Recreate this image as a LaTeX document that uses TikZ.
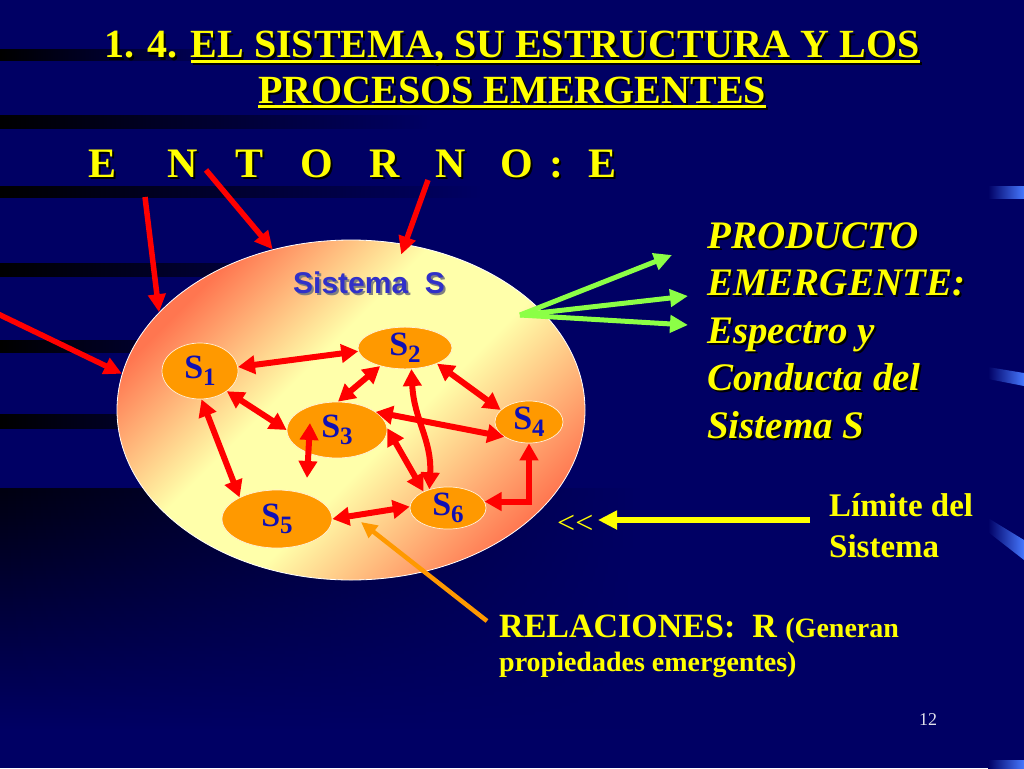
\documentclass[tikz,border=0pt]{standalone}
\usepackage{fontspec}
\setmainfont{Liberation Serif}
\newfontfamily\syssans{Liberation Sans}
\usetikzlibrary{shapes.geometric,arrows.meta,fadings}

\definecolor{slidebg}{RGB}{0,0,100}
\definecolor{slidedark}{RGB}{0,0,16}
\definecolor{titleyel}{RGB}{255,255,0}
\definecolor{sysyel}{RGB}{255,255,170}
\definecolor{syssalmon}{RGB}{255,118,80}
\definecolor{suborange}{RGB}{255,153,0}
\definecolor{subblue}{RGB}{16,16,180}
\definecolor{sysblue}{RGB}{48,48,200}
\definecolor{relred}{RGB}{255,0,0}
\definecolor{prodgreen}{RGB}{140,255,70}
\definecolor{dashblue}{RGB}{70,120,255}
\definecolor{pagegray}{RGB}{225,225,235}

\pgfdeclarehorizontalshading{sysglow}{100bp}{color(0bp)=(syssalmon); color(34bp)=(syssalmon); color(45bp)=(sysyel); color(54bp)=(sysyel); color(67bp)=(syssalmon); color(100bp)=(syssalmon)}

\newcommand\shad[2][black]{\leavevmode\rlap{\kern2pt\raisebox{-2pt}{\color{#1}#2}}#2}
\newcommand\titleline[1]{\setbox0\hbox{#1}\rlap{\rule[-5pt]{\wd0}{3pt}}\box0}
\newcommand\subidx[1]{\raisebox{-7pt}{\fontsize{25}{25}\selectfont#1}}

\begin{document}
\begin{tikzpicture}[x=1pt,y=-1pt,>={Triangle[length=17pt,width=18pt]},
    titletext/.style={text=titleyel,inner sep=0pt,anchor=base,font=\fontsize{40}{45}\selectfont\bfseries},
    entorno/.style={text=titleyel,inner sep=0pt,anchor=base west,font=\fontsize{42}{42}\selectfont\bfseries},
    sysbody/.style={ellipse,draw=white,line width=0.8pt,minimum width=468pt,minimum height=340pt,
      path picture={\shade[shading=sysglow,transform canvas={rotate around={-45:(path picture bounding box.center)}}]
        ([shift={(-300pt,-300pt)}]path picture bounding box.center) rectangle ([shift={(300pt,300pt)}]path picture bounding box.center);}},
    systitle/.style={text=sysblue,inner sep=0pt,anchor=base west,font=\fontsize{30}{30}\selectfont\syssans\bfseries},
    subsys/.style={ellipse,fill=suborange,draw=white!85!suborange,line width=0.7pt,text=subblue,inner sep=0pt,font=\fontsize{34}{34}\selectfont\bfseries},
    relarrow/.style={<->,draw=relred,line width=6pt},
    envarrow/.style={->,draw=relred,line width=5.5pt,>={Triangle[length=18pt,width=17pt]}},
    emarrow/.style={->,draw=prodgreen,line width=5pt,>={Triangle[length=18pt,width=17pt]}},
    limarrow/.style={->,draw=titleyel,line width=6pt,>={Triangle[length=19pt,width=18pt]}},
    rarrow/.style={->,draw=suborange,line width=4.5pt,>={Triangle[length=16pt,width=15pt]}},
    prodtext/.style={text=titleyel,inner sep=0pt,anchor=north west,align=left,font=\fontsize{39}{47.5}\selectfont\bfseries\itshape},
    limtext/.style={text=titleyel,inner sep=0pt,anchor=north west,align=left,font=\fontsize{33}{41}\selectfont\bfseries},
    reltext/.style={text=titleyel,inner sep=0pt,anchor=north west,align=left,font=\fontsize{34}{34}\selectfont\bfseries},
    chevron/.style={text=titleyel,inner sep=0pt,anchor=base west,font=\fontsize{32}{32}\selectfont},
    pagenum/.style={text=pagegray,inner sep=0pt,anchor=base west,font=\fontsize{18}{18}\selectfont}]
\useasboundingbox (0,0) rectangle (1024,768);
% background
\fill[slidebg] (0,0) rectangle (1024,768);
\shade[top color=slidedark,bottom color=slidebg,path fading=east] (0,488) rectangle (640,730);
\foreach \ya/\yb/\len in {49/61/240,115/129/430,186/198/480,263/277/420,340/353/320,414/429/320}
  \fill[black,path fading=east] (0,\ya) rectangle (\len,\yb);
\shade[left color=slidebg,right color=dashblue] (988,186) -- (1024,186) -- (1024,198) -- (988,198) -- cycle;
\shade[left color=slidebg,right color=dashblue] (988,367) -- (1024,373) -- (1024,386) -- (988,379) -- cycle;
\shade[left color=slidebg,right color=dashblue] (988,518) -- (1024,540) -- (1024,560) -- (988,532) -- cycle;
\shade[left color=slidebg,right color=dashblue] (988,760) -- (1024,760) -- (1024,768) -- (988,768) -- cycle;

% title
\node[titletext] (title1) at (512,58) {\shad{1. 4. \titleline{EL SISTEMA, SU ESTRUCTURA Y LOS}}};
\node[titletext] (title2) at (512,103) {\shad{\titleline{PROCESOS EMERGENTES}}};

% entorno
\foreach \ch/\xx [count=\i] in {E/88,N/167,T/235,O/300,R/369,N/435,O/500,:/549,E/588}
  \node[entorno] (ent\i) at (\xx,177) {\shad{\ch}};

% sistema
\node[sysbody] (sys) at (351,410) {};
\node[systitle] (systitle) at (293,293) {\shad[gray]{Sistema\ \ S}};

\node[subsys,minimum width=76pt,minimum height=56pt] (s1) at (200,371) {S\subidx{1}};
\node[subsys,minimum width=94pt,minimum height=40pt] (s2) at (405,348) {S\subidx{2}};
\node[subsys,minimum width=100pt,minimum height=56pt] (s3) at (337,430) {S\subidx{3}};
\node[subsys,minimum width=68pt,minimum height=42pt] (s4) at (529,422) {S\subidx{4}};
\node[subsys,minimum width=110pt,minimum height=58pt] (s5) at (277,519) {S\subidx{5}};
\node[subsys,minimum width=76pt,minimum height=42pt] (s6) at (448,508) {S\subidx{6}};

\coordinate (s3in) at (310,423);
\coordinate (s3foot) at (307,478);
\draw[relarrow] (s1.6) -- (s2.184);
\draw[relarrow] (s2.216) -- (s3.88);
\draw[relarrow] (s1.323) -- (s3.180);
\draw[relarrow] (s1.273) -- (s5.150);
\draw[relarrow] (s3in) -- (s3foot);
\draw[relarrow] (s3.25) -- (s4.211);
\draw[relarrow] (s2.334) -- (s4.157);
\draw[relarrow] (s2.287) .. controls (414,420) and (432,440) .. (s6.135);
\draw[relarrow] (s3.2) -- (s6.146);
\draw[relarrow] (s4.south) |- (s6.10);
\draw[relarrow] (s5.east) -- (s6.178);

% entradas del entorno
\coordinate (env1) at (-4,313);
\coordinate (env2) at (145,197);
\coordinate (env3) at (206,170);
\coordinate (env4) at (428,180);
\draw[envarrow] (env1) -- (sys.171);
\draw[envarrow] (env2) -- (sys.153);
\draw[envarrow] (env3) -- (sys.116);
\draw[envarrow,shorten >=-11pt] (env4) -- (sys.72);

% producto emergente
\coordinate (emerge) at (520,315);
\coordinate (em1) at (672,255);
\coordinate (em2) at (688,296);
\coordinate (em3) at (688,325);
\draw[emarrow] (emerge) -- (em1);
\draw[emarrow] (emerge) -- (em2);
\draw[emarrow] (emerge) -- (em3);
\node[prodtext] (prod) at (707,222) {\shad{PRODUCTO}\\\shad{EMERGENTE:}\\\shad{Espectro y}\\\shad{Conducta del}\\\shad{Sistema S}};

% limite
\node[chevron] (chev) at (557,533) {{<}{<}};
\coordinate (limstart) at (810,520);
\coordinate (limtip) at (598,520);
\draw[limarrow] (limstart) -- (limtip);
\node[limtext] (limite) at (829,493) {L\'imite del\\Sistema};

% relaciones
\node[reltext] (rel) at (499,615) {RELACIONES:\ \ R {\fontsize{28}{34}\selectfont(Generan}\\{\fontsize{28}{34}\selectfont propiedades emergentes)}};
\coordinate (relstart) at (487,621);
\coordinate (reltip) at (361,522);
\draw[rarrow] (relstart) -- (reltip);

\node[pagenum] (page) at (919,725) {12};
\end{tikzpicture}
\end{document}
